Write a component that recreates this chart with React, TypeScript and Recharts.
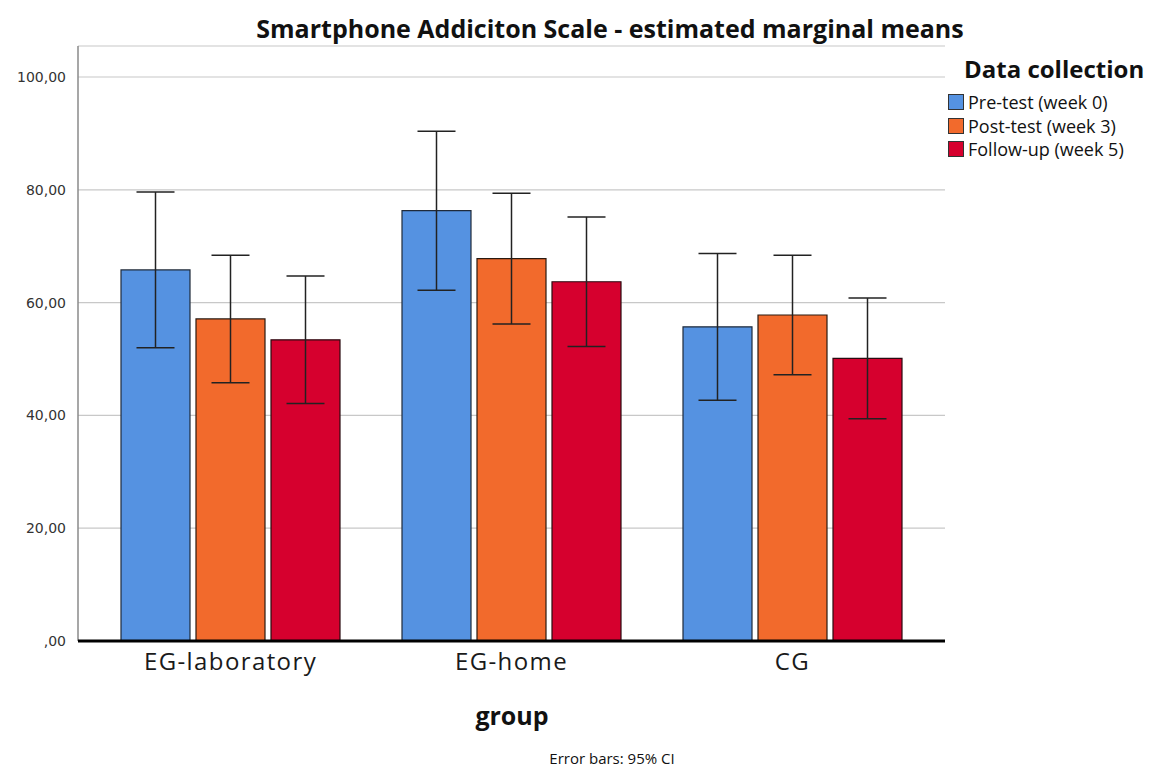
import React from "react";
import { BarChart, Bar, XAxis, YAxis, CartesianGrid, ErrorBar } from "recharts";

// Groups on the x axis
const groups = ["EG-laboratory", "EG-home", "CG"];

// Estimated marginal means per data collection wave
const preTest = [65.8, 76.3, 55.7];
const postTest = [57.1, 67.8, 57.8];
const followUp = [53.4, 63.7, 50.1];

// Half-widths of the 95% confidence intervals
const preCI = [13.8, 14.1, 13.0];
const postCI = [11.3, 11.6, 10.6];
const followCI = [11.3, 11.5, 10.7];

const yTicks = [0, 20, 40, 60, 80, 100];

const seriesNames = ["Pre-test (week 0)", "Post-test (week 3)", "Follow-up (week 5)"];
const seriesColors = ["#5592e1", "#f26a2c", "#d6002e"];

const data = groups.map((g, i) => ({
  group: g,
  pre: preTest[i],
  post: postTest[i],
  follow: followUp[i],
  preErr: preCI[i],
  postErr: postCI[i],
  followErr: followCI[i],
}));

const formatTick = (v: number) => {
  const s = v.toFixed(2).replace(".", ",");
  return s.startsWith("0,") ? s.slice(1) : s;
};

const uiFont = "'Open Sans', 'DejaVu Sans', sans-serif";

export default function App() {
  return (
    <div
      style={{
        position: "absolute",
        left: 0,
        top: 0,
        width: 1166,
        height: 771,
        background: "#ffffff",
        fontFamily: uiFont,
        color: "#111",
      }}
    >
      <div
        style={{
          position: "absolute",
          left: 0,
          width: 1220,
          top: 11,
          textAlign: "center",
          fontSize: 25,
          fontWeight: 700,
          whiteSpace: "nowrap",
        }}
      >
        Smartphone Addiciton Scale - estimated marginal means
      </div>

      <BarChart
        width={1166}
        height={771}
        data={data}
        margin={{ top: 46, right: 221, bottom: 90, left: 8 }}
        barCategoryGap={31}
        barGap={6}
      >
        <CartesianGrid vertical={false} stroke="#c8c8c8" strokeWidth={1.2} />
        <YAxis
          width={70}
          domain={[0, 105.5]}
          ticks={yTicks}
          tickFormatter={formatTick}
          axisLine={{ stroke: "#8a8a8a", strokeWidth: 1.5 }}
          tickLine={false}
          tick={{ fill: "#333", fontSize: 14, fontFamily: "'DejaVu Sans', sans-serif" }}
          tickMargin={6}
          allowDataOverflow
        />
        <XAxis
          dataKey="group"
          height={40}
          padding={{ left: 12, right: 12 }}
          axisLine={{ stroke: "#000", strokeWidth: 3 }}
          tickLine={false}
          tick={{ fill: "#1a1a1a", fontSize: 24, fontFamily: uiFont, letterSpacing: 1.4 }}
          tickMargin={6}
        />
        <Bar dataKey="pre" fill={seriesColors[0]} stroke="#1f2a3a" strokeWidth={1.2} isAnimationActive={false}>
          <ErrorBar dataKey="preErr" width={19} stroke="#222" strokeWidth={1.5} direction="y" />
        </Bar>
        <Bar dataKey="post" fill={seriesColors[1]} stroke="#2a1a10" strokeWidth={1.2} isAnimationActive={false}>
          <ErrorBar dataKey="postErr" width={19} stroke="#222" strokeWidth={1.5} direction="y" />
        </Bar>
        <Bar dataKey="follow" fill={seriesColors[2]} stroke="#2a0a10" strokeWidth={1.2} isAnimationActive={false}>
          <ErrorBar dataKey="followErr" width={19} stroke="#222" strokeWidth={1.5} direction="y" />
        </Bar>
      </BarChart>

      {/* Legend */}
      <div style={{ position: "absolute", left: 964, top: 52, fontSize: 24, fontWeight: 700 }}>
        Data collection
      </div>
      {seriesNames.map((name, i) => (
        <div
          key={name}
          style={{
            position: "absolute",
            left: 948,
            top: 90 + i * 23.5,
            display: "flex",
            alignItems: "center",
            fontSize: 18,
            whiteSpace: "nowrap",
          }}
        >
          <span
            style={{
              display: "inline-block",
              width: 16,
              height: 16,
              background: seriesColors[i],
              border: "1px solid #333",
              boxSizing: "border-box",
              marginRight: 4,
            }}
          />
          {name}
        </div>
      ))}

      <div
        style={{
          position: "absolute",
          left: 0,
          width: 1024,
          top: 698,
          textAlign: "center",
          fontSize: 25,
          fontWeight: 700,
        }}
      >
        group
      </div>
      <div
        style={{
          position: "absolute",
          left: 0,
          width: 1224,
          top: 748,
          textAlign: "center",
          fontSize: 15,
        }}
      >
        Error bars: 95% CI
      </div>
    </div>
  );
}
